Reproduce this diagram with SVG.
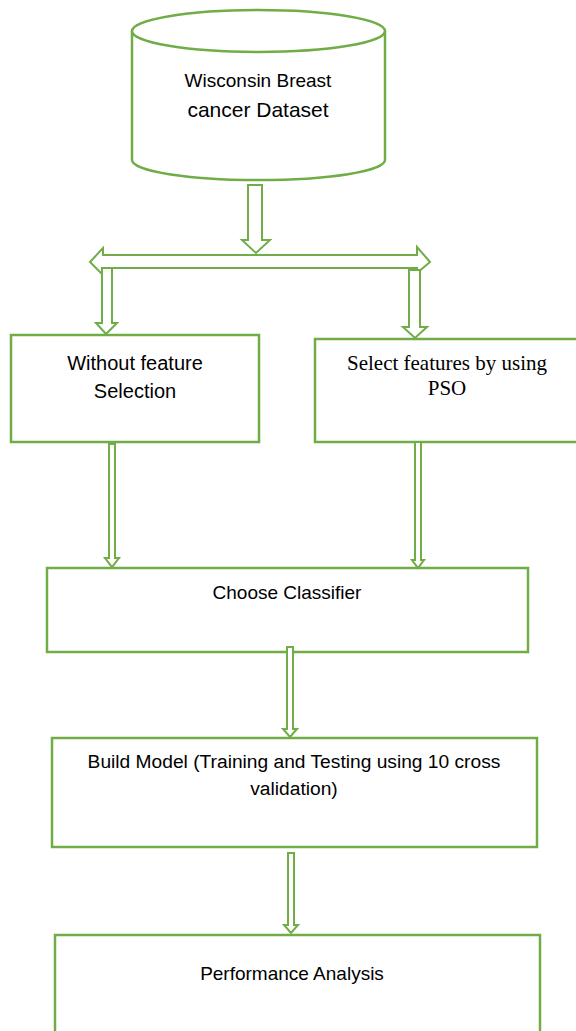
<svg xmlns="http://www.w3.org/2000/svg" width="576" height="1031" viewBox="0 0 576 1031">
<style>
.shape{fill:#ffffff;stroke:#70AD47;stroke-width:2.5}
.arr{fill:#ffffff;stroke:#70AD47;stroke-width:2;stroke-linejoin:miter}
.t{font-family:"Liberation Sans",Arial,sans-serif;fill:#000;text-anchor:middle}
.ts{font-family:"Liberation Serif","Times New Roman",serif;fill:#000;text-anchor:middle}
</style>
<rect width="576" height="1031" fill="#ffffff"/>
<g id="dataset">
<path class="shape" d="M132,31 L132,160 A126.5,20 0 0 0 385,160 L385,31"/>
<ellipse class="shape" cx="258.5" cy="31" rx="126.5" ry="21"/>
<text class="t" x="258" y="87" font-size="19">Wisconsin Breast</text>
<text class="t" x="258" y="117" font-size="21">cancer Dataset</text>
</g>
<g id="without-fs">
<rect class="shape" x="11" y="335" width="248" height="107"/>
<text class="t" x="135" y="370" font-size="20">Without feature</text>
<text class="t" x="135" y="398" font-size="20">Selection</text>
</g>
<g id="pso">
<rect class="shape" x="315" y="339" width="263" height="103"/>
<text class="ts" x="447" y="370" font-size="21">Select features by using</text>
<text class="ts" x="447" y="395" font-size="21">PSO</text>
</g>
<g id="classifier">
<rect class="shape" x="47" y="568" width="481" height="84"/>
<text class="t" x="287" y="599" font-size="19">Choose Classifier</text>
</g>
<g id="build">
<rect class="shape" x="52" y="738" width="485" height="109"/>
<text class="t" x="294" y="768" font-size="19.2">Build Model (Training and Testing using 10 cross</text>
<text class="t" x="294" y="795" font-size="19.2">validation)</text>
</g>
<g id="performance">
<rect class="shape" x="55" y="935" width="485" height="110"/>
<text class="t" x="292" y="980" font-size="19">Performance Analysis</text>
</g>
<g id="connectors">
<polygon class="arr" points="248,185 262,185 262,240 270,240 256,253 242,240 248,240"/>
<polygon class="arr" points="90,262 103,248 103,255 417,255 417,247 430,262 417,273 417,268 103,268 103,275"/>
<polygon class="arr" points="102,268 112,268 112,323 117,323 106,334 96,323 102,323"/>
<polygon class="arr" points="409,270 420,270 420,327 427,327 415,338 403,327 409,327"/>
<polygon class="arr" points="109,444 115,444 115,558 119,558 112,567 105,558 109,558"/>
<polygon class="arr" points="415,442 421,442 421,560 424,560 418,568 412,560 415,560"/>
<polygon class="arr" points="287,647 293,647 293,729 297,729 290,737 283,729 287,729"/>
<polygon class="arr" points="288,853 294,853 294,925 298,925 291,933 284,925 288,925"/>
</g>
</svg>
